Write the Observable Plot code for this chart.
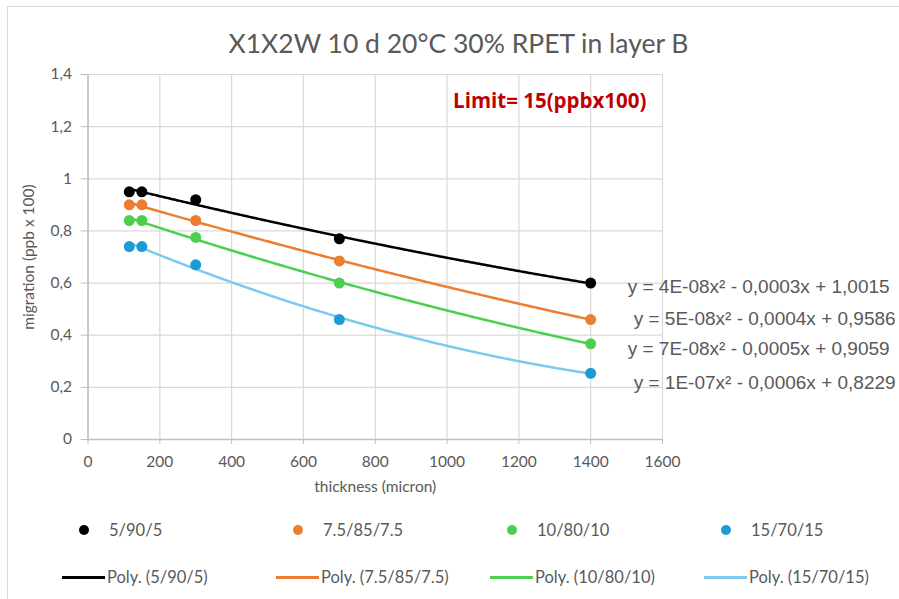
<!DOCTYPE html>
<html>
<head>
<meta charset="utf-8">
<script src="https://cdn.jsdelivr.net/npm/d3@7"></script>
<script src="https://cdn.jsdelivr.net/npm/@observablehq/plot@0.6"></script>
<style>
  html, body { margin: 0; padding: 0; background: #ffffff; }
  #chart { position: relative; width: 899px; height: 599px; overflow: hidden; font-family: Lato, "Open Sans", sans-serif; color: #595959; }
  #frame-top { position: absolute; left: 7px; top: 6px; width: 892px; height: 0; border-top: 1.5px solid #d9d9d9; }
  #frame-left { position: absolute; left: 7px; top: 6px; width: 0; height: 593px; border-left: 1.5px solid #d9d9d9; }
  #title { position: absolute; left: 9px; top: 27px; width: 899px; text-align: center; font-size: 26.5px; line-height: 32px; color: #595959; }
  #plot { position: absolute; left: 0; top: 60px; }
  .legend-row { position: absolute; left: 0; width: 899px; height: 20px; }
  .legend-item { position: absolute; top: 0; height: 20px; font-size: 16.5px; line-height: 20px; white-space: nowrap; }
  .legend-dot { position: absolute; top: 5px; width: 10px; height: 10px; border-radius: 50%; }
  .legend-line { position: absolute; top: 9px; height: 2.5px; width: 43px; }
  .legend-text { position: absolute; top: 0; }
</style>
</head>
<body>
<div id="chart">
  <div id="frame-top"></div>
  <div id="frame-left"></div>
  <div id="title">X1X2W 10 d 20°C 30% RPET in layer B</div>
  <div id="plot"></div>
  <div class="legend-row" id="legend-dots" style="top:520px"></div>
  <div class="legend-row" id="legend-lines" style="top:567px"></div>
</div>
<script>
// Film thickness (micron) at which migration was measured
const thickness = [115, 150, 300, 700, 1400];

// Layer ratios (A/B/C) of the four structures
const series = ["5/90/5", "7.5/85/7.5", "10/80/10", "15/70/15"];

// Migration (ppb x 100) per structure, one value per thickness
const migration_5_90_5 = [0.95, 0.95, 0.92, 0.77, 0.60];
const migration_7_5_85_7_5 = [0.90, 0.90, 0.84, 0.685, 0.46];
const migration_10_80_10 = [0.84, 0.84, 0.775, 0.60, 0.367];
const migration_15_70_15 = [0.74, 0.74, 0.67, 0.46, 0.254];

// Trendline equations shown next to the curves
const equations = [
  "y = 4E-08x² - 0,0003x + 1,0015",
  "y = 5E-08x² - 0,0004x + 0,9586",
  "y = 7E-08x² - 0,0005x + 0,9059",
  "y = 1E-07x² - 0,0006x + 0,8229"
];

// Axis ticks
const xTicks = [0, 200, 400, 600, 800, 1000, 1200, 1400, 1600];
const yTicks = [0, 0.2, 0.4, 0.6, 0.8, 1.0, 1.2, 1.4];
const yTickLabels = ["0", "0,2", "0,4", "0,6", "0,8", "1", "1,2", "1,4"];

const limitLabel = "Limit= 15(ppbx100)";

const dotColors = ["#000000", "#ed7d31", "#4ccf4f", "#1e9bd7"];
const lineColors = ["#000000", "#ed7d31", "#4ccf4f", "#7ccbef"];
// Label offsets from each series' last point (px)
const eqDx = [37, 43, 37, 43];
const eqDy = [4, -1, 5, 10];

const values = [migration_5_90_5, migration_7_5_85_7_5, migration_10_80_10, migration_15_70_15];

// Tidy table of measured points
const points = series.flatMap((s, i) =>
  thickness.map((t, j) => ({series: s, thickness: t, migration: values[i][j]})));

// Least-squares second-order polynomial fit (the "Poly." trendline)
function polyFit2(xs, ys) {
  const n = xs.length;
  let s0 = n, s1 = 0, s2 = 0, s3 = 0, s4 = 0, t0 = 0, t1 = 0, t2 = 0;
  for (let k = 0; k < n; k++) {
    const x = xs[k], y = ys[k];
    s1 += x; s2 += x * x; s3 += x * x * x; s4 += x * x * x * x;
    t0 += y; t1 += x * y; t2 += x * x * y;
  }
  const A = [[s0, s1, s2, t0], [s1, s2, s3, t1], [s2, s3, s4, t2]];
  for (let c = 0; c < 3; c++) {
    for (let r = c + 1; r < 3; r++) {
      const f = A[r][c] / A[c][c];
      for (let k = c; k < 4; k++) A[r][k] -= f * A[c][k];
    }
  }
  const b = [0, 0, 0];
  for (let r = 2; r >= 0; r--) {
    let s = A[r][3];
    for (let k = r + 1; k < 3; k++) s -= A[r][k] * b[k];
    b[r] = s / A[r][r];
  }
  return b; // [c0, c1, c2]
}

const xMin = d3.min(thickness), xMax = d3.max(thickness);
const trend = series.flatMap((s, i) => {
  const [c0, c1, c2] = polyFit2(thickness, values[i]);
  return d3.range(xMin, xMax + 0.001, 5).concat([xMax]).map(x => ({series: s, thickness: x, migration: c0 + c1 * x + c2 * x * x}));
});

const lastPoints = series.map((s, i) => ({series: s, thickness: xMax, migration: values[i][thickness.length - 1], eq: equations[i]}));

const chart = Plot.plot({
  width: 899,
  height: 439,
  marginLeft: 87.5,
  marginRight: 237,
  marginTop: 14,
  marginBottom: 60,
  style: {fontFamily: "Lato, 'Open Sans', sans-serif", fontSize: "15.5px", color: "#595959", background: "transparent", overflow: "visible"},
  x: {domain: [0, 1600]},
  y: {domain: [0, 1.4]},
  marks: [
    Plot.gridX(xTicks, {stroke: "#d9d9d9", strokeOpacity: 1, strokeWidth: 1.2}),
    Plot.gridY(yTicks, {stroke: "#d9d9d9", strokeOpacity: 1, strokeWidth: 1.2}),
    Plot.ruleX([0], {stroke: "#bfbfbf", strokeWidth: 1.5}),
    Plot.ruleY([0], {stroke: "#bfbfbf", strokeWidth: 1.5}),
    Plot.axisX(xTicks, {stroke: "#bfbfbf", fill: "#595959", tickSize: 5, tickPadding: 11,
      tickFormat: d => String(d),
      label: "thickness (micron)", labelAnchor: "center", labelArrow: "none", labelOffset: 52}),
    Plot.axisY(yTicks, {stroke: "#bfbfbf", fill: "#595959", tickSize: 7, tickPadding: 9,
      tickFormat: (d, i) => yTickLabels[i],
      label: "migration (ppb x 100)", labelAnchor: "center", labelArrow: "none", labelOffset: 65}),
    ...series.map((s, i) => Plot.line(trend.filter(d => d.series === s), {
      x: "thickness", y: "migration", stroke: lineColors[i], strokeWidth: 2.5, curve: "linear"})),
    ...series.map((s, i) => Plot.dot(points.filter(d => d.series === s), {
      x: "thickness", y: "migration", r: 5.5, fill: dotColors[i], stroke: "none"})),
    ...series.map((s, i) => Plot.text([lastPoints[i]], {
      x: "thickness", y: "migration", text: "eq", textAnchor: "start", dx: eqDx[i], dy: eqDy[i],
      fill: "#595959", fontSize: 19, fontFamily: "'Liberation Sans', Arial, sans-serif"})),
    Plot.text([limitLabel], {frameAnchor: "top-right", textAnchor: "end", lineAnchor: "middle", dx: -16, dy: 27,
      fill: "#c00000", fontWeight: "bold", fontSize: 20.5, fontFamily: "'Open Sans', Lato, sans-serif"})
  ]
});
document.getElementById("plot").appendChild(chart);

// Legend: markers on the first row, trendlines on the second
const legendDots = document.getElementById("legend-dots");
const legendLines = document.getElementById("legend-lines");
series.forEach((s, i) => {
  const left = 55 + i * 214;
  const a = document.createElement("div");
  a.className = "legend-item";
  a.style.left = left + "px";
  a.innerHTML = `<span class="legend-dot" style="left:24px;background:${dotColors[i]}"></span><span class="legend-text" style="left:54px">${s}</span>`;
  legendDots.appendChild(a);
  const b = document.createElement("div");
  b.className = "legend-item";
  b.style.left = left + "px";
  b.innerHTML = `<span class="legend-line" style="left:7px;background:${lineColors[i]}"></span><span class="legend-text" style="left:52px">Poly. (${s})</span>`;
  legendLines.appendChild(b);
});
</script>
</body>
</html>
